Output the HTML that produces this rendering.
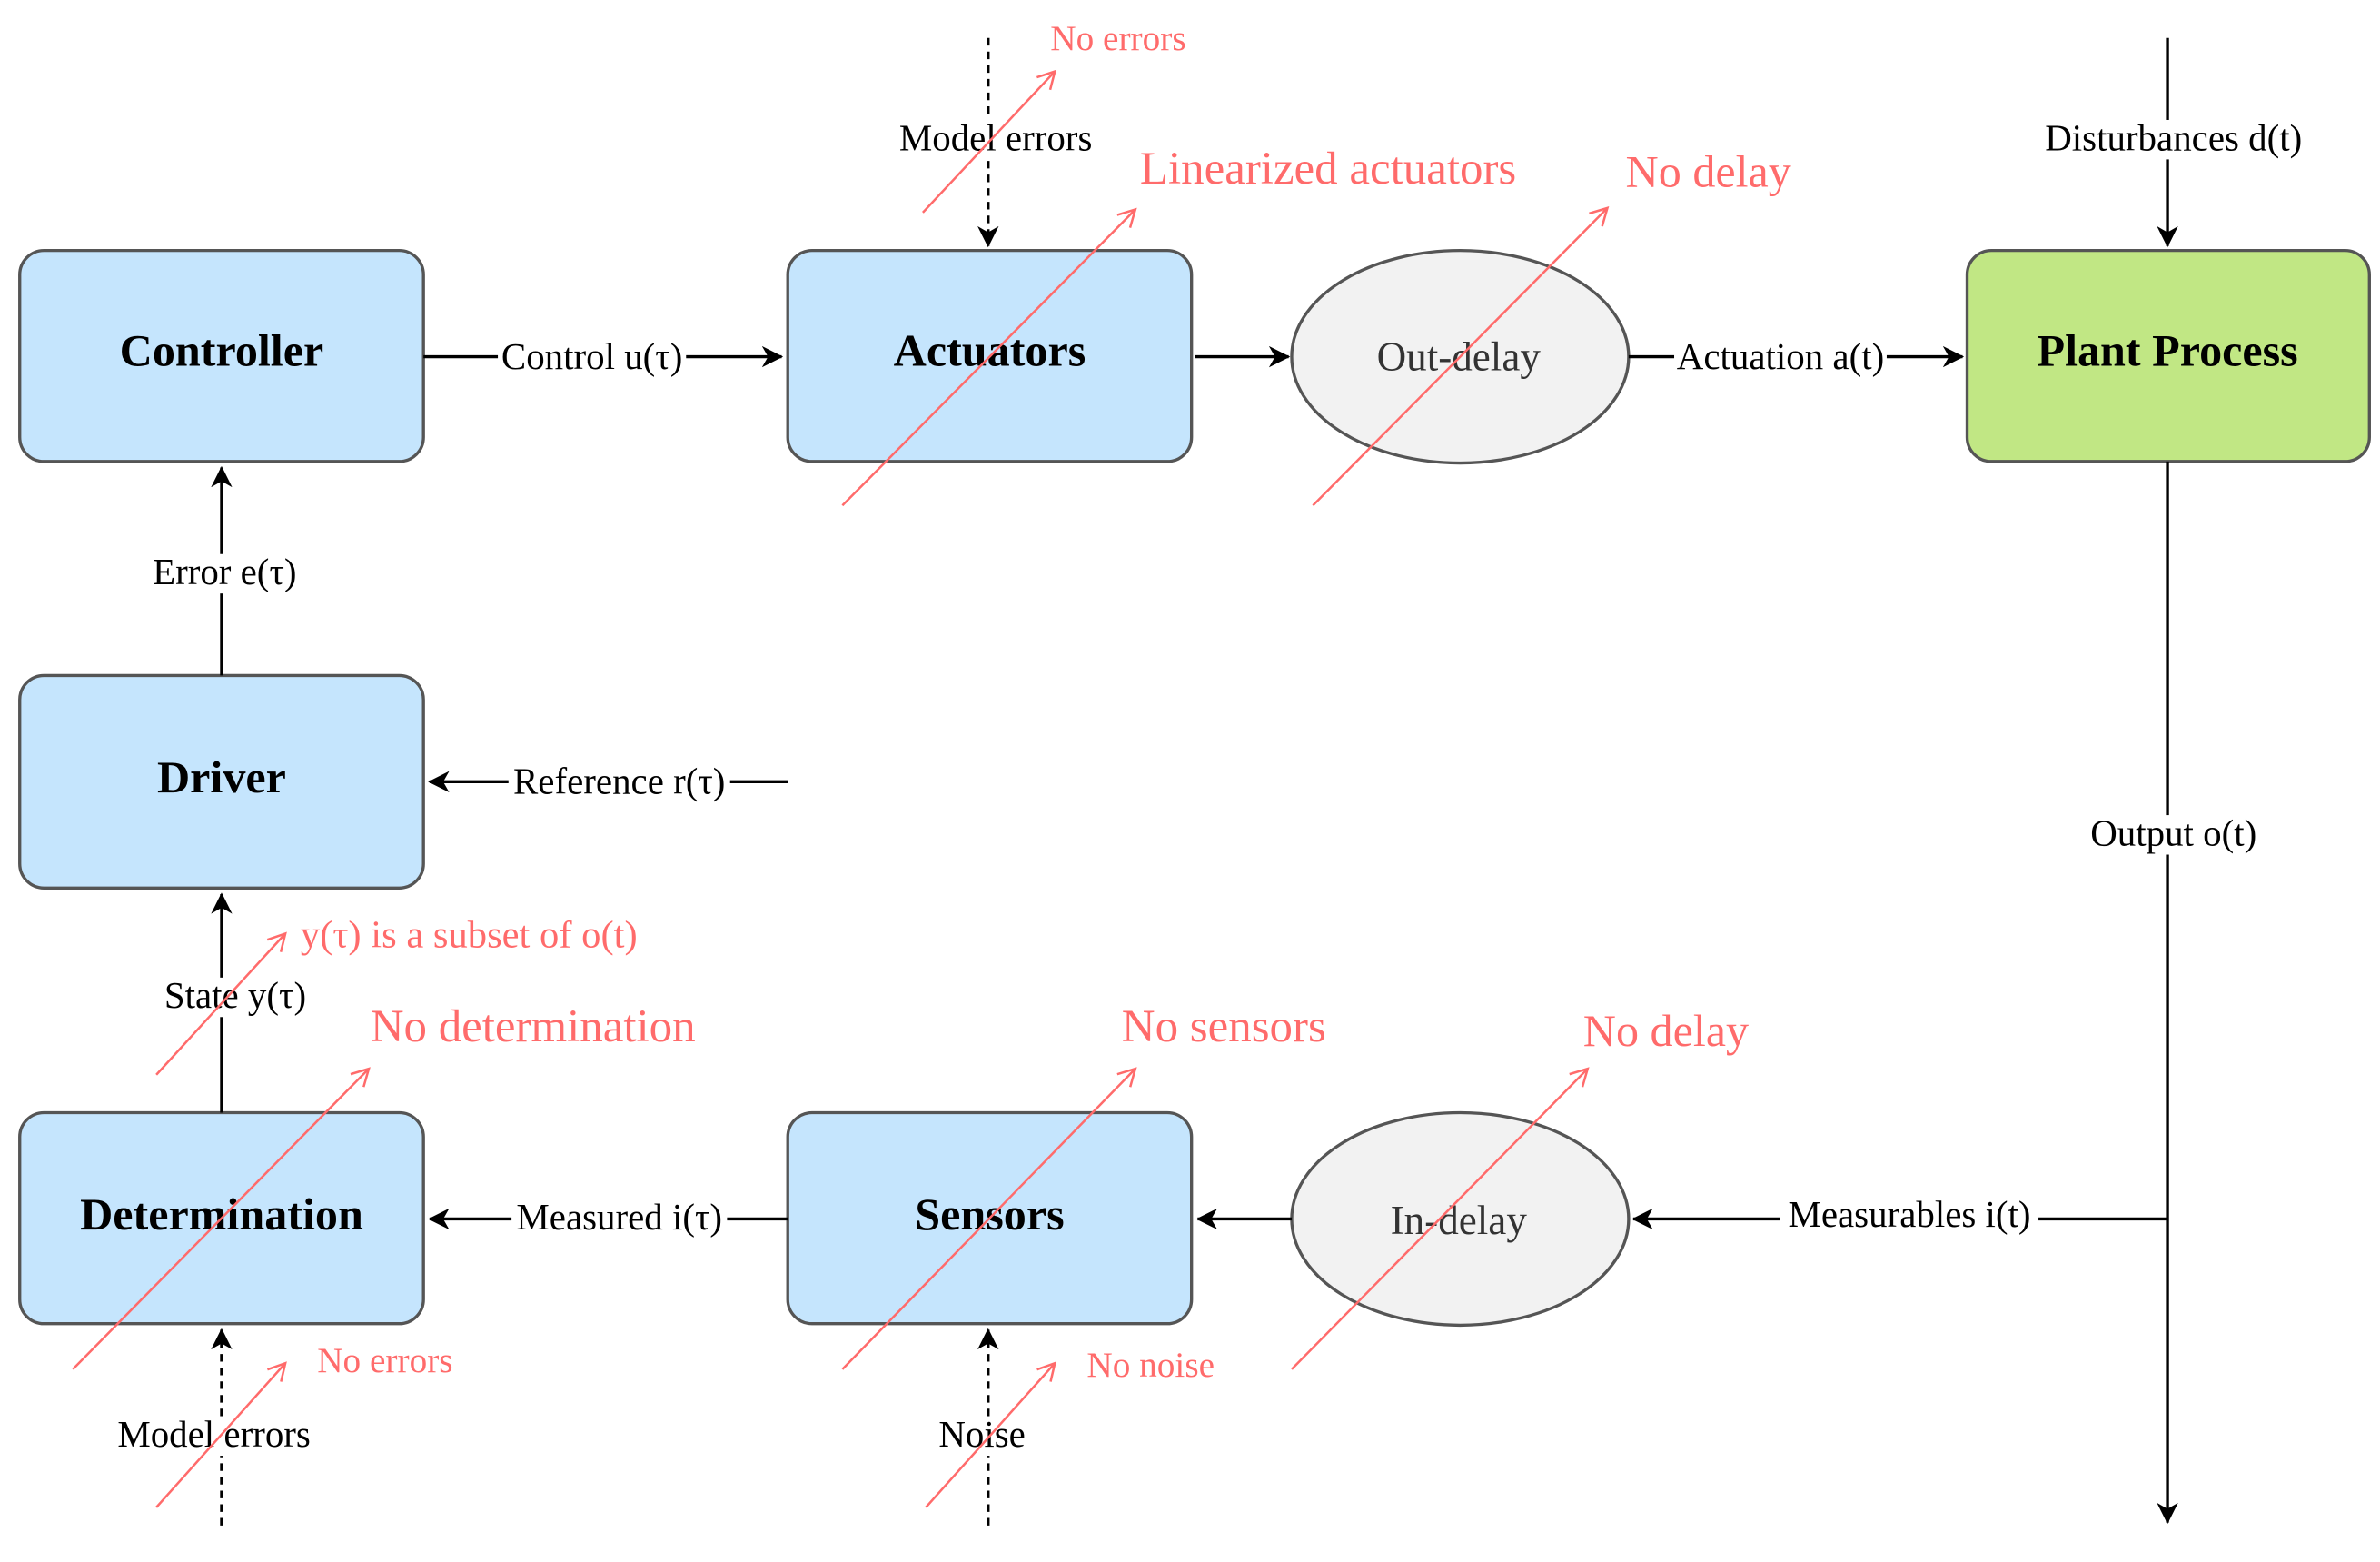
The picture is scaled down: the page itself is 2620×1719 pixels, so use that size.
<!DOCTYPE html>
<html><head><meta charset="utf-8"><style>
html,body{margin:0;padding:0;background:#fff;}
svg{display:block;}
text{font-family:"Liberation Serif",serif;}
</style></head><body>
<svg width="2620" height="1719" viewBox="0 0 1568 1029" preserveAspectRatio="none" xmlns="http://www.w3.org/2000/svg">
<defs>
<marker id="a" markerWidth="14" markerHeight="14" refX="13" refY="7" orient="auto" markerUnits="userSpaceOnUse"><path d="M0,0 L14,7 L0,14 L4,7 Z" fill="#000"/></marker>
<marker id="r" markerWidth="14" markerHeight="14" refX="12" refY="7" orient="auto" markerUnits="userSpaceOnUse"><path d="M1,1 L12,7 L1,13" fill="none" stroke="#ff6b6b" stroke-width="1.5"/></marker>
</defs>
<g stroke="#555" stroke-width="2">
<rect x="13" y="165" width="266" height="139" rx="16" fill="#c5e5fd"/>
<rect x="519" y="165" width="266" height="139" rx="16" fill="#c5e5fd"/>
<rect x="1296" y="165" width="265" height="139" rx="16" fill="#c1e784"/>
<rect x="13" y="445" width="266" height="140" rx="16" fill="#c5e5fd"/>
<rect x="13" y="733" width="266" height="139" rx="16" fill="#c5e5fd"/>
<rect x="519" y="733" width="266" height="139" rx="16" fill="#c5e5fd"/>
<ellipse cx="962" cy="235" rx="111" ry="70" fill="#f2f2f2"/>
<ellipse cx="962" cy="803" rx="111" ry="70" fill="#f2f2f2"/>
</g>
<g font-weight="bold" font-size="30" text-anchor="middle">
<text x="146" y="241">Controller</text>
<text x="652" y="241">Actuators</text>
<text x="1428" y="241">Plant Process</text>
<text x="146" y="522">Driver</text>
<text x="146" y="810">Determination</text>
<text x="652" y="810">Sensors</text>
</g>
<g font-size="27" text-anchor="middle" fill="#333">
<text x="961" y="244">Out-delay</text>
<text x="961" y="813">In-delay</text>
</g>
<g stroke="#000" stroke-width="2" fill="none">
<line x1="279" y1="235" x2="515" y2="235" marker-end="url(#a)"/>
<line x1="787" y1="235" x2="849" y2="235" marker-end="url(#a)"/>
<line x1="1073" y1="235" x2="1293" y2="235" marker-end="url(#a)"/>
<line x1="1428" y1="25" x2="1428" y2="162" marker-end="url(#a)"/>
<line x1="651" y1="25" x2="651" y2="162" stroke-dasharray="5,4" marker-end="url(#a)"/>
<line x1="1428" y1="304" x2="1428" y2="1003" marker-end="url(#a)"/>
<line x1="1428" y1="803" x2="1076" y2="803" marker-end="url(#a)"/>
<line x1="851" y1="803" x2="789" y2="803" marker-end="url(#a)"/>
<line x1="519" y1="803" x2="283" y2="803" marker-end="url(#a)"/>
<line x1="146" y1="733" x2="146" y2="589" marker-end="url(#a)"/>
<line x1="146" y1="445" x2="146" y2="308" marker-end="url(#a)"/>
<line x1="519" y1="515" x2="283" y2="515" marker-end="url(#a)"/>
<line x1="146" y1="1005" x2="146" y2="876" stroke-dasharray="5,4" marker-end="url(#a)"/>
<line x1="651" y1="1005" x2="651" y2="876" stroke-dasharray="5,4" marker-end="url(#a)"/>
</g>
<g font-size="24.5" text-anchor="middle" fill="#000">
<rect x="328" y="222" width="124" height="26" fill="#fff"/><text x="390" y="243">Control u(τ)</text>
<rect x="1103" y="222" width="140" height="26" fill="#fff"/><text x="1173" y="243">Actuation a(t)</text>
<rect x="1343" y="79" width="178" height="26" fill="#fff"/><text x="1432" y="99">Disturbances d(t)</text>
<rect x="590" y="79" width="132" height="26" fill="#fff"/><text x="656" y="99">Model errors</text>
<rect x="1375" y="537" width="114" height="26" fill="#fff"/><text x="1432" y="557">Output o(t)</text>
<rect x="1173" y="788" width="170" height="26" fill="#fff"/><text x="1258" y="808">Measurables i(t)</text>
<rect x="337" y="790" width="142" height="26" fill="#fff"/><text x="408" y="810">Measured i(τ)</text>
<rect x="335" y="502" width="146" height="26" fill="#fff"/><text x="408" y="523">Reference r(τ)</text>
<rect x="104" y="644" width="102" height="26" fill="#fff"/><text x="155" y="664">State y(τ)</text>
<rect x="99" y="365" width="98" height="26" fill="#fff"/><text x="148" y="385">Error e(τ)</text>
<rect x="75" y="933" width="132" height="26" fill="#fff"/><text x="141" y="953">Model errors</text>
<rect x="618" y="933" width="58" height="26" fill="#fff"/><text x="647" y="953">Noise</text>
</g>
<g stroke="#ff6b6b" stroke-width="1.5" fill="none">
<line x1="608" y1="140" x2="695" y2="47" marker-end="url(#r)"/>
<line x1="555" y1="333" x2="748" y2="138" marker-end="url(#r)"/>
<line x1="865" y1="333" x2="1059" y2="137" marker-end="url(#r)"/>
<line x1="103" y1="708" x2="188" y2="615" marker-end="url(#r)"/>
<line x1="48" y1="902" x2="243" y2="704" marker-end="url(#r)"/>
<line x1="555" y1="902" x2="748" y2="704" marker-end="url(#r)"/>
<line x1="851" y1="902" x2="1046" y2="704" marker-end="url(#r)"/>
<line x1="103" y1="993" x2="188" y2="898" marker-end="url(#r)"/>
<line x1="610" y1="993" x2="695" y2="898" marker-end="url(#r)"/>
</g>
<g fill="#ff6b6b">
<text x="692" y="33" font-size="23.5">No errors</text>
<text x="751" y="121" font-size="30.5">Linearized actuators</text>
<text x="1071" y="123" font-size="30">No delay</text>
<text x="198" y="624" font-size="25.5">y(τ) is a subset of o(t)</text>
<text x="244" y="686" font-size="30.5">No determination</text>
<text x="739" y="686" font-size="30.5">No sensors</text>
<text x="1043" y="689" font-size="30">No delay</text>
<text x="209" y="904" font-size="23.5">No errors</text>
<text x="716" y="907" font-size="23.5">No noise</text>
</g>
</svg>
</body></html>
